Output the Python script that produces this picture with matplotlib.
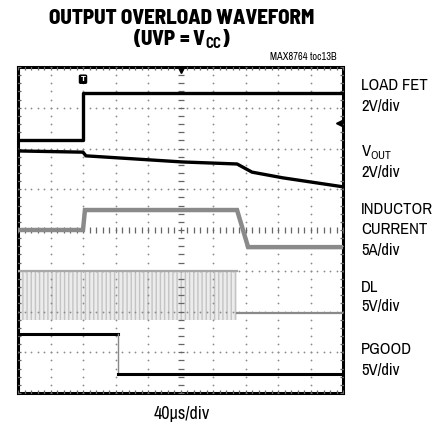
import numpy as np
import matplotlib
matplotlib.use('Agg')
import matplotlib.pyplot as plt

LABEL_FONT = ['Archivo Narrow', 'DejaVu Sans']
TITLE_FONT = ['Barlow Semi Condensed', 'DejaVu Sans']
plt.rcParams['font.family'] = LABEL_FONT
plt.rcParams['mathtext.fontset'] = 'custom'
plt.rcParams['mathtext.rm'] = 'Archivo Narrow'
plt.rcParams['mathtext.bf'] = 'Barlow Semi Condensed:bold'

# ---- traces, in scope divisions (x: 0..10, y: 0..8 from bottom) ----
load_fet_x = [0.0, 2.0, 2.0, 10.0]
load_fet_y = [6.21, 6.21, 7.36, 7.36]

vout_x = [0.0, 2.0, 2.09, 5.05, 6.74, 7.2, 8.15, 10.0]
vout_y = [5.94, 5.91, 5.82, 5.67, 5.62, 5.42, 5.28, 5.06]

ind_x = [0.0, 2.0, 2.06, 6.74, 7.08, 10.0]
ind_y = [4.0, 4.0, 4.49, 4.49, 3.58, 3.58]

dl_band_x = [0.0, 6.74]
dl_band_top = [2.99, 2.99]
dl_band_bot = [1.8, 1.8]
dl_low_x = [6.74, 10.0]
dl_low_y = [1.96, 1.96]

pgood_x = [0.0, 3.09, 3.09, 10.0]
pgood_y = [1.45, 1.45, 0.47, 0.47]

labels = ['LOAD FET', '2V/div', 'V$_{\\rm OUT}$', '2V/div',
          'INDUCTOR', 'CURRENT', '5A/div', 'DL', '5V/div', 'PGOOD', '5V/div']
label_ypx = [85, 107, 152, 173, 210, 230, 251, 287, 306, 350, 371]

fig = plt.figure(figsize=(4.46, 4.26), dpi=100)
ax = fig.add_axes([18/446, 1 - 393/426, 325/446, 326/426])
ax.set_xlim(0, 10)
ax.set_ylim(0, 8)
ax.set_xticks([])
ax.set_yticks([])
for s in ax.spines.values():
    s.set_linewidth(2.2)
    s.set_color('black')

# scope graticule
minor_x = np.arange(0, 10.001, 0.2)
minor_y = np.arange(0, 8.001, 0.2)
dot = dict(ls='none', marker='o', ms=1.3, mfc='#8c8c8c', mec='none', zorder=3)
for gx in range(1, 10):
    if gx != 5:
        ax.plot(np.full_like(minor_y, gx), minor_y, **dot)
for gy in range(1, 8):
    if gy != 4:
        ax.plot(minor_x, np.full_like(minor_x, gy), **dot)
tick = dict(ls='none', color='#666666', mew=0.9, zorder=3)
ax.plot(np.full_like(minor_y, 5), minor_y, marker='_', ms=4, **tick)
ax.plot(minor_x, np.full_like(minor_x, 4), marker='|', ms=4, **tick)
ax.plot(minor_x, np.full_like(minor_x, 8), marker='|', ms=4, **tick)
ax.plot(minor_x, np.full_like(minor_x, 0), marker='|', ms=4, **tick)
ax.plot(np.full_like(minor_y, 0), minor_y, marker='_', ms=4, **tick)
ax.plot(np.full_like(minor_y, 10), minor_y, marker='_', ms=4, **tick)

# traces
ax.fill_between(dl_band_x, dl_band_bot, dl_band_top, facecolor='#ececec',
                edgecolor='#c4c4c4', hatch='||||', linewidth=0, zorder=2)
ax.plot(dl_band_x, dl_band_top, color='#a8a8a8', lw=1.6, zorder=4)
ax.plot(dl_low_x, dl_low_y, color='#8a8a8a', lw=1.6, zorder=4)
ax.plot(ind_x, ind_y, color='#8a8a8a', lw=3.2, zorder=4, solid_joinstyle='miter')
ax.plot(load_fet_x, load_fet_y, color='black', lw=2.4, zorder=5)
ax.plot(vout_x, vout_y, color='black', lw=2.4, zorder=5)
ax.plot(pgood_x[:2], pgood_y[:2], color='black', lw=2.2, zorder=5)
ax.plot(pgood_x[1:3], pgood_y[1:3], color='#888888', lw=1.0, zorder=5)
ax.plot(pgood_x[2:], pgood_y[2:], color='black', lw=2.2, zorder=5)

# markers
ax.plot([5], [7.93], marker='v', ms=5, color='black', zorder=6, clip_on=False)
ax.plot([9.88], [6.63], marker='<', ms=5, color='black', zorder=6)
ax.text(2.0, 7.7, 'T', color='white', fontsize=5, fontweight='bold',
        family='DejaVu Sans', ha='center', va='center', zorder=6,
        bbox=dict(boxstyle='round,pad=0.15', fc='black', ec='black'))

# text
fig.text(182/446, 1 - 18/426, 'OUTPUT OVERLOAD WAVEFORM', ha='center', va='center',
         fontsize=15, fontweight='heavy', family=TITLE_FONT)
fig.text(182/446, 1 - 39/426, '(UVP = V$_{\\mathbf{CC}}$)', ha='center', va='center',
         fontsize=15, fontweight='heavy', family=TITLE_FONT)
fig.text(337/446, 1 - 57/426, 'MAX8764 toc13B', ha='right', va='center', fontsize=7.5)
for t, ypx in zip(labels, label_ypx):
    fig.text(361/446, 1 - ypx/426, t, ha='left', va='center', fontsize=12)
fig.text(182/446, 1 - 414/426, '40\u03bcs/div', ha='center', va='center', fontsize=13)

fig.savefig('out.png', dpi=100)
